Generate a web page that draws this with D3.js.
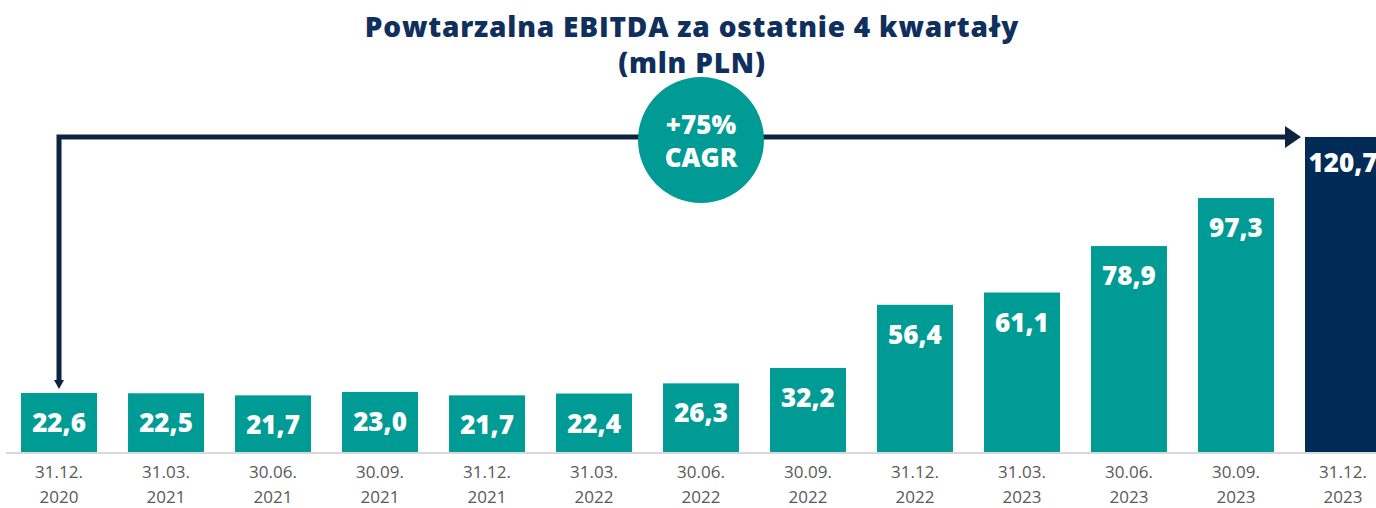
<!DOCTYPE html>
<html>
<head>
<meta charset="utf-8">
<script src="https://cdn.jsdelivr.net/npm/d3@7"></script>
<style>
  body { margin: 0; background: #fff; }
  svg { display: block; font-family: "Open Sans", sans-serif; }
</style>
</head>
<body>
<div class="chart"></div>
<script>
var dates = ["31.12.", "31.03.", "30.06.", "30.09.", "31.12.", "31.03.", "30.06.", "30.09.", "31.12.", "31.03.", "30.06.", "30.09.", "31.12."];
var years = ["2020", "2021", "2021", "2021", "2021", "2022", "2022", "2022", "2022", "2023", "2023", "2023", "2023"];
var values = [22.6, 22.5, 21.7, 23.0, 21.7, 22.4, 26.3, 32.2, 56.4, 61.1, 78.9, 97.3, 120.7];
var cagrLines = ["+75%", "CAGR"];

window.onload = function() {
  var w = 1376, h = 508;
  var teal = "#009b95", navy = "#002b56", arrowCol = "#0e2342";
  var fmt = function(v) { return v.toFixed(1).replace(".", ","); };

  var keys = values.map(function(d, i) { return i; });

  var svg = d3.select(".chart").append("svg").attr("width", w).attr("height", h);

  var x = d3.scaleBand().domain(keys).range([-10, 1412]).padding(0.29);
  var y = d3.scaleLinear().domain([0, 130]).range([452, 452 - 2.61 * 130]);

  // title
  var title = svg.append("text").attr("text-anchor", "middle")
     .attr("fill", "#0f2f5c").style("font-weight", 800).style("font-size", "28px")
     .style("letter-spacing", "0.8px");
  title.append("tspan").attr("x", 692).attr("y", 37).text("Powtarzalna EBITDA za ostatnie 4 kwartały");
  title.append("tspan").attr("x", 692).attr("y", 73).text("(mln PLN)");

  // axis line
  svg.append("line").attr("x1", 6).attr("x2", w).attr("y1", y(0) + 1).attr("y2", y(0) + 1)
     .attr("stroke", "#d9d9d9").attr("stroke-width", 2);

  // bars
  svg.selectAll(".bar").data(values).enter().append("rect")
     .attr("class", "bar")
     .attr("x", function(d, i) { return x(i); })
     .attr("y", function(d) { return y(d); })
     .attr("width", x.bandwidth())
     .attr("height", function(d) { return y(0) - y(d); })
     .attr("fill", function(d, i) { return i === values.length - 1 ? navy : teal; });

  svg.selectAll(".val").data(values).enter().append("text")
     .attr("class", "val")
     .attr("x", function(d, i) { return x(i) + x.bandwidth() / 2; })
     .attr("y", function(d, i) { return y(d) + (i === values.length - 1 ? 35 : 39); })
     .attr("text-anchor", "middle").attr("fill", "#fff")
     .style("font-weight", 800).style("font-size", "26px")
     .text(fmt);

  // x labels
  var xl = svg.selectAll(".xl").data(keys).enter().append("text")
     .attr("class", "xl").attr("text-anchor", "middle").attr("fill", "#595959")
     .style("font-size", "17px");
  xl.append("tspan").attr("x", function(i) { return x(i) + x.bandwidth() / 2; }).attr("y", 478)
    .text(function(i) { return dates[i]; });
  xl.append("tspan").attr("x", function(i) { return x(i) + x.bandwidth() / 2; }).attr("y", 503)
    .text(function(i) { return years[i]; });

  // arrow
  var last = values.length - 1;
  var ax = x(0) + x.bandwidth() / 2;
  var ay = y(values[last]);
  var endX = x(last) - 4;
  var downY = y(values[0]) - 4;
  svg.append("path")
     .attr("d", "M" + ax + "," + (downY - 8) + "V" + ay + "H" + (endX - 14))
     .attr("fill", "none").attr("stroke", arrowCol).attr("stroke-width", 5);
  svg.append("path")
     .attr("d", "M" + (endX - 16) + "," + (ay - 11) + "L" + endX + "," + ay + "L" + (endX - 16) + "," + (ay + 11) + "Z")
     .attr("fill", arrowCol);
  svg.append("path")
     .attr("d", "M" + (ax - 5) + "," + (downY - 9) + "L" + ax + "," + downY + "L" + (ax + 5) + "," + (downY - 9) + "Z")
     .attr("fill", arrowCol);

  // CAGR circle
  var cx = x(6) + x.bandwidth() / 2, cy = 140;
  svg.append("circle").attr("cx", cx).attr("cy", cy).attr("r", 63).attr("fill", teal);
  svg.selectAll(".cagr").data(cagrLines).enter().append("text")
     .attr("class", "cagr").attr("x", cx).attr("y", function(d, i) { return cy - 6 + i * 33; })
     .attr("text-anchor", "middle").attr("fill", "#fff")
     .style("font-weight", 800).style("font-size", "26px")
     .text(function(d) { return d; });
};
</script>
</body>
</html>
